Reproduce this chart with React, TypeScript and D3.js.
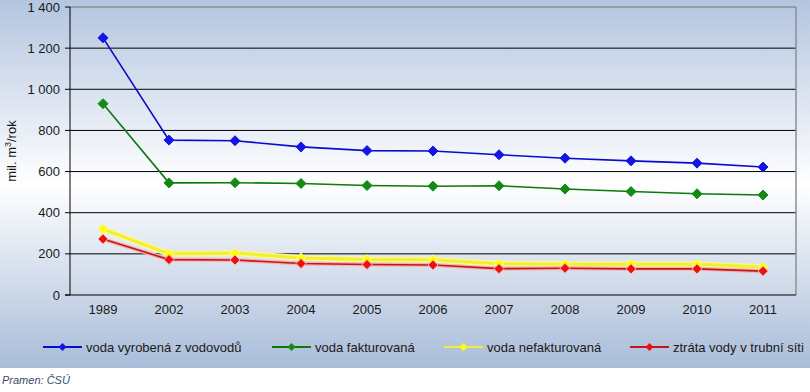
import * as React from "react";
import * as d3 from "d3";

const years = ["1989", "2002", "2003", "2004", "2005", "2006", "2007", "2008", "2009", "2010", "2011"];
const vyrobena = [1250, 753, 750, 720, 702, 700, 682, 665, 652, 641, 622];
const fakturovana = [930, 545, 546, 542, 532, 529, 531, 515, 503, 492, 486];
const nefakturovana = [320, 200, 204, 180, 172, 171, 152, 150, 150, 149, 136];
const ztrata = [272, 172, 170, 153, 148, 146, 128, 130, 127, 127, 116];
const yTicks = [0, 200, 400, 600, 800, 1000, 1200, 1400];

const series = [
  { name: "voda vyrobená z vodovodů", values: vyrobena, color: "#0a0ad0", marker: "#1414e6", halo: null },
  { name: "voda fakturovaná", values: fakturovana, color: "#0c7a0c", marker: "#138a13", halo: null },
  { name: "voda nefakturovaná", values: nefakturovana, color: "#f0f030", marker: "#ffff00", halo: "#fbf59a" },
  { name: "ztráta vody v trubní síti", values: ztrata, color: "#c01818", marker: "#ee1010", halo: "#f6b0b0" },
];

const legendX = [43, 272, 444, 630];

const fmt = (v: number) => d3.format(",")(v).replace(/,/g, " ");

export default function App() {
  const width = 810;
  const height = 392;
  const left = 70;
  const right = 796;
  const top = 7;
  const bottom = 295;
  const font = "'Liberation Sans', Arial, sans-serif";

  const x = d3.scaleBand<string>().domain(years).range([left, right]);
  const y = d3.scaleLinear().domain([0, 1400]).range([bottom, top]);
  const line = d3
    .line<number>()
    .x((_, i) => (x(years[i]) as number) + x.bandwidth() / 2)
    .y((d) => y(d));

  const diamond = (cx: number, cy: number, r: number) =>
    `M${cx},${cy - r}L${cx + r},${cy}L${cx},${cy + r}L${cx - r},${cy}Z`;

  return (
    <svg width={width} height={height} style={{ position: "absolute", left: 0, top: 0 }}>
      <defs>
        <linearGradient id="bg" x1="0" y1="0" x2="0" y2="1">
          <stop offset="0%" stopColor="#b3c5e0" />
          <stop offset="50%" stopColor="#ffffff" />
          <stop offset="100%" stopColor="#a9bcd9" />
        </linearGradient>
      </defs>
      <rect x={0} y={0} width={width} height={height} fill="#ffffff" />
      <rect x={0} y={0} width={width} height={368} fill="url(#bg)" />

      {/* grid */}
      {yTicks.slice(1, -1).map((t) => (
        <line key={t} x1={left} x2={right} y1={y(t)} y2={y(t)} stroke="#000" strokeWidth={1} />
      ))}
      <line x1={left} x2={right} y1={top} y2={top} stroke="#8a8f96" strokeWidth={1.5} />
      <line x1={right} x2={right} y1={top} y2={bottom} stroke="#8a8f96" strokeWidth={1.5} />
      <line x1={left} x2={left} y1={top} y2={bottom} stroke="#000" strokeWidth={1} />
      <line x1={left - 5} x2={right} y1={bottom} y2={bottom} stroke="#000" strokeWidth={1} />
      {yTicks.map((t) => (
        <g key={t}>
          <line x1={left - 5} x2={left} y1={y(t)} y2={y(t)} stroke="#000" />
          <text x={left - 10} y={y(t) + 4.5} textAnchor="end" fontSize={13} fontFamily={font} fill="#1a1a1a">
            {fmt(t)}
          </text>
        </g>
      ))}
      {years.map((yr) => (
        <text
          key={yr}
          x={(x(yr) as number) + x.bandwidth() / 2}
          y={314}
          textAnchor="middle"
          fontSize={13}
          fontFamily={font}
          fill="#1a1a1a"
        >
          {yr}
        </text>
      ))}
      <text
        transform={`translate(16,${(top + bottom) / 2}) rotate(-90)`}
        textAnchor="middle"
        fontSize={13}
        fontFamily={font}
        fill="#1a1a1a"
      >
        mil. m<tspan dy={-5} fontSize={9}>3</tspan>
        <tspan dy={5}>/rok</tspan>
      </text>

      {/* series */}
      {series.map((s) => (
        <g key={s.name}>
          {s.halo && (
            <path d={line(s.values) || ""} fill="none" stroke={s.halo} strokeWidth={s.color === "#f0f030" ? 6 : 4} />
          )}
          <path d={line(s.values) || ""} fill="none" stroke={s.color} strokeWidth={s.color === "#f0f030" ? 3 : 1.6} />
          {s.values.map((v, i) => (
            <path
              key={i}
              d={diamond((x(years[i]) as number) + x.bandwidth() / 2, y(v), 5)}
              fill={s.marker}
              stroke={s.halo || s.marker}
              strokeWidth={1}
            />
          ))}
        </g>
      ))}

      {/* legend */}
      {series.map((s, i) => (
        <g key={s.name}>
          <line x1={legendX[i]} x2={legendX[i] + 39} y1={347} y2={347} stroke={s.color} strokeWidth={2} />
          <path d={diamond(legendX[i] + 19.5, 347, 4)} fill={s.marker} />
          <text x={legendX[i] + 43} y={351.5} fontSize={13} fontFamily={font} fill="#1a1a1a">
            {s.name}
          </text>
        </g>
      ))}

      <text x={2} y={384} fontSize={11} fontStyle="italic" fontFamily={font} fill="#3a4a66">
        Pramen: ČSÚ
      </text>
    </svg>
  );
}
